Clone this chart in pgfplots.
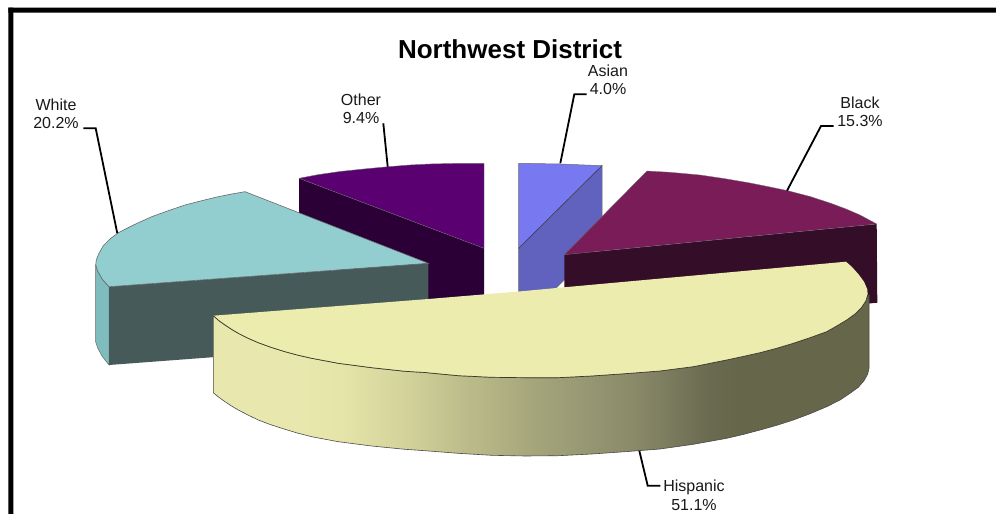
\documentclass[border=0pt]{standalone}
\usepackage{fontspec}
\setmainfont{Liberation Sans}
\usepackage{pgfplots}
\pgfplotsset{compat=1.18}

\definecolor{asiantop}{RGB}{120,120,240}
\definecolor{asianside}{RGB}{96,98,190}
\definecolor{othertop}{RGB}{90,0,112}
\definecolor{otherside}{RGB}{42,0,54}
\definecolor{whitetop}{RGB}{146,205,207}
\definecolor{whiteside}{RGB}{126,188,190}
\definecolor{whitefront}{RGB}{70,90,90}
\definecolor{blacktop}{RGB}{122,28,88}
\definecolor{blackside}{RGB}{52,14,40}
\definecolor{hisptop}{RGB}{236,236,174}
\definecolor{edgegray}{RGB}{105,105,105}
\definecolor{labeltext}{RGB}{25,25,25}

% side of the big slice, light on the left and dark on the right
\pgfdeclarehorizontalshading{hispside}{100bp}{
  color(0bp)=(rgb,255:red,232;green,232;blue,174);
  color(31.6bp)=(rgb,255:red,232;green,232;blue,174);
  color(34.7bp)=(rgb,255:red,229;green,229;blue,170);
  color(37.7bp)=(rgb,255:red,218;green,218;blue,160);
  color(40.8bp)=(rgb,255:red,205;green,205;blue,150);
  color(43.8bp)=(rgb,255:red,190;green,190;blue,140);
  color(49.2bp)=(rgb,255:red,166;green,166;blue,124);
  color(53.7bp)=(rgb,255:red,150;green,150;blue,114);
  color(57.5bp)=(rgb,255:red,136;green,136;blue,104);
  color(60.6bp)=(rgb,255:red,118;green,118;blue,90);
  color(62.9bp)=(rgb,255:red,106;green,106;blue,80);
  color(65.2bp)=(rgb,255:red,102;green,102;blue,74);
  color(100bp)=(rgb,255:red,102;green,102;blue,74)}

\newcommand{\lab}[3]{\node[anchor=base, font=\fontsize{16}{18}\selectfont, text=labeltext, inner sep=0pt] at (axis cs:#1,#2) {#3};}

\begin{document}
\begin{tikzpicture}
\begin{axis}[
    scale only axis,
    width=996pt,
    height=514pt,
    xmin=0, xmax=996,
    ymin=0, ymax=514,
    y dir=reverse,
    hide axis,
    no markers,
]
% white page, keeps the picture at full size
\addplot[fill=white, draw=none] coordinates {(0,0) (996,0) (996,514) (0,514) (0,0)};

% frame
\addplot[fill=black, draw=none] coordinates {(8.3,7.7) (996,7.7) (996,12.7) (8.3,12.7) (8.3,7.7)};
\addplot[fill=black, draw=none] coordinates {(8.3,7.7) (13.3,7.7) (13.3,514) (8.3,514) (8.3,7.7)};

% Asian
\addplot[fill=asianside, draw=edgegray, line width=0.5pt] coordinates {(602,165.7) (602,242.7) (518.7,325) (518.7,248.3) (602,165.7)};
\addplot[fill=asiantop, draw=edgegray, line width=0.5pt] coordinates {(518.7,163.3) (560,164) (602,165.7) (518.7,248.3) (518.7,163.3)};
\addplot[draw=asianside!60!black, line width=0.6pt] coordinates {(602,165.7) (518.7,248.3)};

% Other
\addplot[fill=otherside, draw=none] coordinates {(299,178.3) (484,248.3) (484,325) (299,255) (299,178.3)};
\addplot[fill=othertop, draw=edgegray, line width=0.4pt] coordinates {
(299,178.3) (318,174.7) (340,171.5) (364,169) (388.3,166.7) (410,165) (430,164) (456,163.4) (484,163.3) (484,248.3) (299,178.3)};

% White
\addplot[fill=whiteside, draw=edgegray, line width=0.5pt] coordinates {
(95.7,265) (95.7,342) (97.7,348) (102.3,356.5) (109,365) (109,286.7) (102.3,279.3) (97.7,271) (95.7,265)};
\addplot[fill=whitefront, draw=none] coordinates {(109,286.7) (428.3,263.3) (428.3,341) (109,365) (109,286.7)};
\addplot[fill=whitetop, draw=edgegray, line width=0.6pt] coordinates {
(245,191.7) (231.7,194) (218.3,196.7) (201.7,200.7) (185,205) (168.3,210.7) (151.7,216.7) (135,224.3) (118.3,232.7) (110,239)
(103.3,245.7) (99,253.3) (96.3,260) (95.7,265) (97.7,271) (102.3,279.3) (109,286.7) (428.3,263.3) (245,191.7)};

% Black
\addplot[fill=blackside, draw=none] coordinates {(564.3,254.7) (876.7,224) (877.3,302.7) (564.3,333) (564.3,254.7)};
\addplot[fill=blacktop, draw=edgegray, line width=0.3pt] coordinates {
(647,171) (670,172.3) (700,175) (725,178.7) (750,183) (770,187) (787.7,190.7) (810,196.5) (830,203) (846,209) (860,215) (876.7,224) (564.3,254.7) (647,171)};

% Hispanic
\addplot[shade, shading=hispside, draw=edgegray!70!black, line width=0.6pt] coordinates {
(213.3,315.7) (219,320.7) (225,325) (231.5,329.3) (238.3,333.3) (248,338.2) (258.3,342.7) (271,347.3) (285,351.7) (298,355.2) (311.7,358.3) (338.3,363.3) (371.7,367.7) (405,371.3) (425,372.5)
(458.3,375.7) (491.7,377.3) (525,377.7) (558.3,377.7) (591.7,376) (625,373.7) (660,371) (693.3,366.7) (726.7,360) (743,356.5) (760,352.7) (776.7,348.3)
(793.3,343.3) (810,337.7) (826.7,331.7) (836.7,326) (846.7,320) (855,314) (861.7,307.3) (866,300.7) (869,295)
(869,368.3) (867.7,374) (864,380.7) (858.3,387.3) (850,393.3) (840,400) (826.7,406.7) (810,413.7) (793.3,420) (776.7,425.3) (760,430) (743,434.5) (726.7,438.3) (693.3,444.3) (660,449)
(625,451.7) (591.7,454) (558.3,455.7) (525,456) (491.7,455.3) (458.3,453.3) (425,450.7) (405,449.3) (371.7,446) (338.3,441.7)
(311.7,436.7) (298,433.2) (285,429.3) (271,424.8) (258.3,420) (248,415) (238.3,410) (231.5,406) (225,401.7) (219,397.4) (213.3,392.7) (213.3,315.7)};
\addplot[fill=hisptop, draw=none] coordinates {
(213.3,315.7) (428.3,299) (518.7,291.5) (564,287.3) (846,261.7) (851.7,266.7) (858.3,274) (864,281.7) (867.3,289.3) (867.7,295) (866,300.7) (861.7,307.3) (855,314) (846.7,320) (836.7,326)
(826.7,331.7) (810,337.7) (793.3,343.3) (776.7,348.3) (760,352.7) (743,356.5) (726.7,360) (693.3,366.7) (660,371) (625,373.7) (591.7,376) (558.3,377.7) (525,377.7)
(491.7,377.3) (458.3,375.7) (425,372.5) (405,371.3) (371.7,367.7) (338.3,363.3) (311.7,358.3) (298,355.2) (285,351.7) (271,347.3) (258.3,342.7) (248,338.2)
(238.3,333.3) (231.5,329.3) (225,325) (219,320.7) (213.3,315.7)};
\addplot[draw=black!75!hisptop, line width=0.7pt] coordinates {
(213.3,315.7) (219,320.7) (225,325) (231.5,329.3) (238.3,333.3) (248,338.2) (258.3,342.7) (271,347.3) (285,351.7) (298,355.2) (311.7,358.3) (338.3,363.3) (371.7,367.7) (405,371.3) (425,372.5)
(458.3,375.7) (491.7,377.3) (525,377.7) (558.3,377.7) (591.7,376) (625,373.7) (660,371) (693.3,366.7) (726.7,360) (743,356.5) (760,352.7) (776.7,348.3)
(793.3,343.3) (810,337.7) (826.7,331.7) (836.7,326) (846.7,320) (855,314) (861.7,307.3) (866,300.7) (867.7,295)};

% leader lines
\addplot[black, line width=1.8pt] coordinates {(83.3,128.3) (95.7,128.3) (117.3,233.3)};
\addplot[black, line width=1.8pt] coordinates {(383.3,123.3) (387.7,166.7)};
\addplot[black, line width=1.8pt] coordinates {(586.7,94.3) (574.3,94.3) (560.3,163.3)};
\addplot[black, line width=1.8pt] coordinates {(833.7,126) (821,126) (787,190.7)};
\addplot[black, line width=1.8pt] coordinates {(639.3,450.7) (647.7,485.7) (660.3,485.7)};

% text
\node[anchor=base, font=\fontsize{26}{30}\selectfont\bfseries, inner sep=0pt] at (axis cs:510,58.3) {Northwest District};
\lab{56}{110.7}{White}
\lab{56}{128.3}{20.2\%}
\lab{361}{105}{Other}
\lab{361}{123.3}{9.4\%}
\lab{608}{76.7}{Asian}
\lab{608}{94.3}{4.0\%}
\lab{860}{108.3}{Black}
\lab{860}{126.7}{15.3\%}
\lab{694}{491.7}{Hispanic}
\lab{694}{510}{51.1\%}
\end{axis}
\end{tikzpicture}
\end{document}
